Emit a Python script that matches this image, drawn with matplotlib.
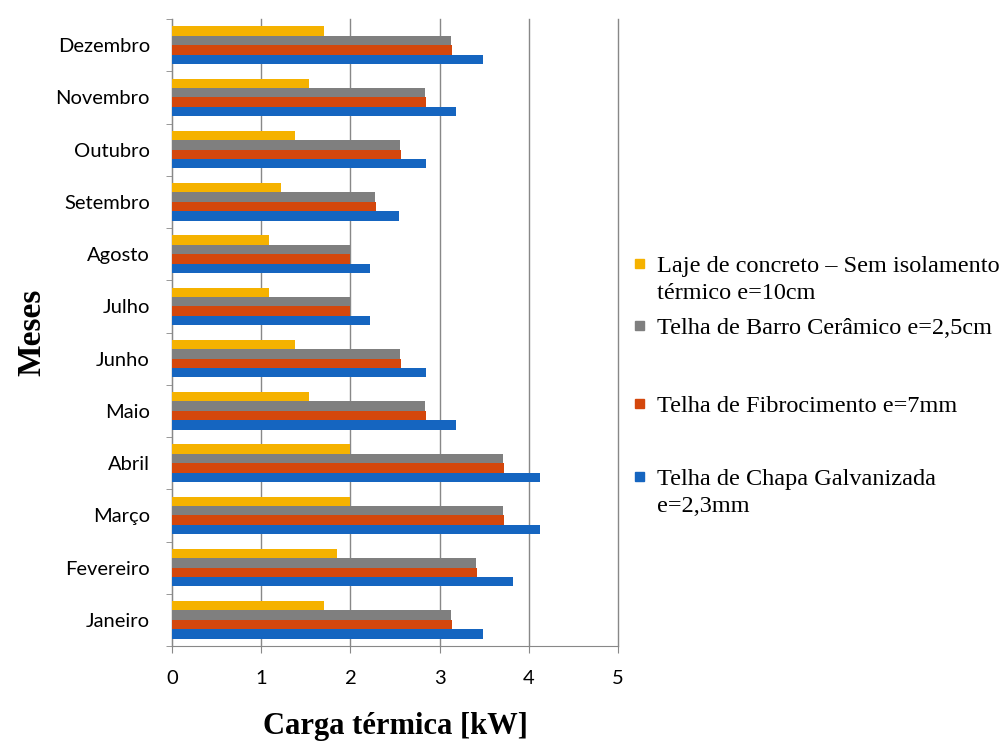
from matplotlib import pyplot as plt
from matplotlib.patches import Rectangle
import numpy as np

meses = ['Janeiro', 'Fevereiro', 'Março', 'Abril', 'Maio', 'Junho',
         'Julho', 'Agosto', 'Setembro', 'Outubro', 'Novembro', 'Dezembro']

laje = [1.70, 1.85, 1.99, 1.99, 1.54, 1.38, 1.09, 1.09, 1.22, 1.38, 1.54, 1.70]
barro = [3.13, 3.41, 3.71, 3.71, 2.84, 2.56, 1.99, 1.99, 2.28, 2.56, 2.84, 3.13]
fibro = [3.14, 3.42, 3.72, 3.72, 2.85, 2.57, 2.00, 2.00, 2.29, 2.57, 2.85, 3.14]
chapa = [3.49, 3.82, 4.13, 4.13, 3.18, 2.85, 2.22, 2.22, 2.54, 2.85, 3.18, 3.49]

rotulos = ['Laje de concreto – Sem isolamento\ntérmico e=10cm',
           'Telha de Barro Cerâmico e=2,5cm',
           'Telha de Fibrocimento e=7mm',
           'Telha de Chapa Galvanizada\ne=2,3mm']
cores = ['#F5B200', '#7F7F7F', '#D4470C', '#1565C0']

W, H = 1006, 743
fig = plt.figure(figsize=(W / 100, H / 100), dpi=100)
ax = fig.add_axes([172 / W, 97 / H, 446 / W, 627 / H])

y = np.arange(len(meses))
h = 0.18
series = [laje, barro, fibro, chapa]
# amarelo em cima, azul embaixo
offsets = [1.5 * h, 0.5 * h, -0.5 * h, -1.5 * h]
for vals, off, cor in zip(series, offsets, cores):
    ax.barh(y + off, vals, height=h, color=cor, zorder=3)

ax.set_xlim(0, 5)
ax.set_ylim(-0.5, len(meses) - 0.5)
ax.set_xticks(range(6))
ax.set_yticks(y)
ax.set_yticklabels(meses, fontsize=14.5, family='Lato')
ax.set_xticklabels([str(i) for i in range(6)], fontsize=14.5, family='Lato')
ax.set_yticks(np.arange(-0.5, len(meses), 1), minor=True)
ax.tick_params(axis='y', which='major', length=0, pad=16)
ax.tick_params(axis='y', which='minor', length=4, color='#888888')
ax.tick_params(axis='x', length=5, color='#888888', pad=12)

ax.grid(axis='x', color='#888888', linewidth=1, zorder=0)
for gl in ax.get_xgridlines():
    gl.set_clip_on(False)
for s in ['top', 'right']:
    ax.spines[s].set_visible(False)
ax.spines['left'].set_color('#888888')
ax.spines['bottom'].set_color('#888888')

ax.set_xlabel('Carga térmica [kW]', family='Liberation Serif', fontweight='bold',
              fontsize=22, labelpad=18)
ax.set_ylabel('Meses', family='Liberation Serif', fontweight='bold',
              fontsize=24, labelpad=6)

# legenda desenhada a mao para imitar o espacamento do Excel
base_px = [272, 334, 412, 485]
for txt, cor, b in zip(rotulos, cores, base_px):
    for i, linha in enumerate(txt.split('\n')):
        fig.text(657 / W, (H - b - 27 * i) / H, linha, family='Liberation Serif',
                 fontsize=17.5, va='baseline', ha='left')
    fig.add_artist(Rectangle((635 / W, (H - b + 4) / H), 9 / W, 9 / H,
                             transform=fig.transFigure, color=cor))

fig.savefig('out.png', dpi=100)
